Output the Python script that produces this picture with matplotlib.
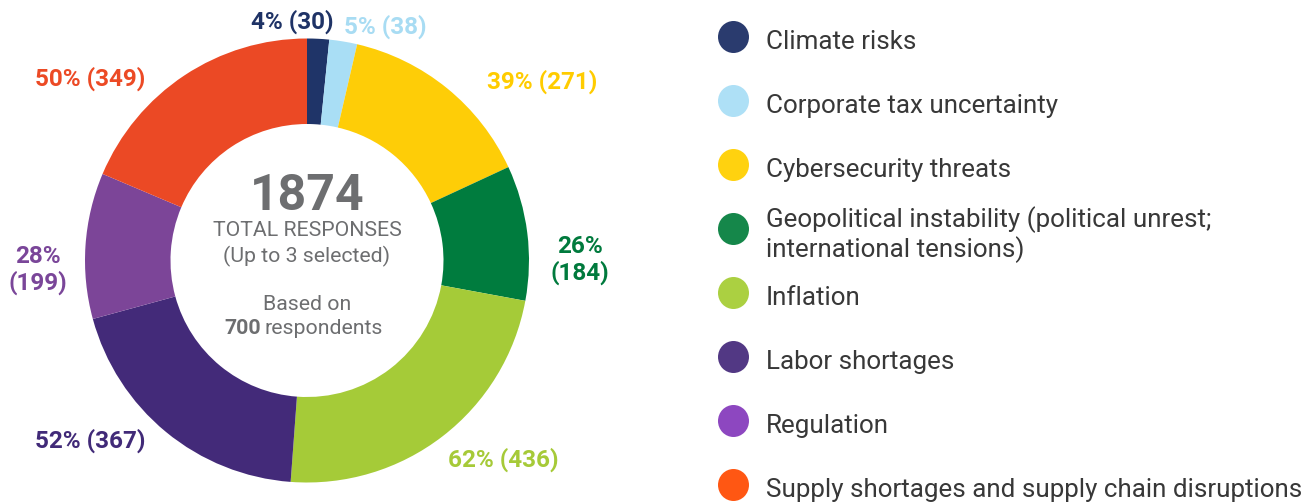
import matplotlib
matplotlib.use("Agg")
import matplotlib.pyplot as plt
from matplotlib.patches import Ellipse

categories = ["Climate risks", "Corporate tax uncertainty", "Cybersecurity threats",
              "Geopolitical instability (political unrest;\ninternational tensions)",
              "Inflation", "Labor shortages", "Regulation",
              "Supply shortages and supply chain disruptions"]
counts = [30, 38, 271, 184, 436, 367, 199, 349]
respondents = 700
wedge_colors = ["#1f3468", "#a9def5", "#fecd07", "#007c3e", "#a5cb38", "#432a79", "#7c4598", "#eb4925"]
label_colors = ["#1f3366", "#a8dcf3", "#ffcc00", "#007a3d", "#a6ca38", "#412a78", "#7a4699", "#ec4a25"]
legend_colors = ["#2a3b6e", "#aee0f6", "#ffd20f", "#15874a", "#abd041", "#523884", "#8d47c0", "#ff5713"]

W, H = 1315, 504
fig = plt.figure(figsize=(W / 100, H / 100), dpi=100)
ax = fig.add_axes([0, 0, 1, 1])

def Y(y):
    return H - y

cx, cy, R, r_in = 307, 260.5, 222, 136.5
total = sum(counts)
ax.pie(counts, colors=wedge_colors, startangle=90, counterclock=False,
       center=(cx, Y(cy)), radius=R,
       wedgeprops=dict(width=R - r_in, linewidth=0))
ax.set_xlim(0, W)
ax.set_ylim(0, H)
ax.set_aspect("equal")
ax.axis("off")

FONT = ["Roboto", "DejaVu Sans"]

# value labels
label_pos = [(292, 22, "center"), (385, 27, "center"), (542, 82, "center"),
             (580, 260, "center"), (503, 460, "center"), (90, 441, "center"),
             (38, 270, "center"), (90, 79, "center")]
two_line = [False, False, False, True, False, False, True, False]
for i, v in enumerate(counts):
    pct = round(v / respondents * 100)
    sep = "\n" if two_line[i] else " "
    x, y, ha = label_pos[i]
    ax.text(x, Y(y), f"{pct}%{sep}({v})", color=label_colors[i], fontsize=17.5,
            fontweight="bold", family=FONT, ha=ha, va="center", linespacing=1.15)

# center text
gray = "#6d6e70"
ax.text(cx, Y(197), f"{total}", color=gray, fontsize=36, fontweight="bold",
        family=FONT, ha="center", va="center")
fs = 15.3
ax.text(cx, Y(231), "TOTAL RESPONSES", color=gray, fontsize=fs, family=FONT,
        ha="center", va="center")
ax.text(cx, Y(256), "(Up to 3 selected)", color=gray, fontsize=fs, family=FONT,
        ha="center", va="center")
ax.text(cx, Y(305), "Based on", color=gray, fontsize=fs, family=FONT,
        ha="center", va="center")
t1 = ax.text(cx - 83, Y(329), f"{respondents}", color=gray, fontsize=fs, family=FONT,
             fontweight="bold", ha="left", va="center")
fig.canvas.draw()
bb = t1.get_window_extent()
ax.text(bb.x1 + 4, Y(329), "respondents", color=gray, fontsize=fs, family=FONT,
        ha="left", va="center")

# legend
marker_y = [37, 101, 165, 229, 293, 357, 421, 485]
text_y = [42, 106, 170, 234.5, 298, 362, 426, 490]
for i, name in enumerate(categories):
    ax.add_patch(Ellipse((733.5, Y(marker_y[i])), 31, 32, color=legend_colors[i], lw=0))
    ax.text(766, Y(text_y[i]), name, color="#383838", fontsize=18.7, family=FONT,
            fontweight="normal", ha="left", va="center", linespacing=1.12)

fig.savefig("out.png", dpi=100)
